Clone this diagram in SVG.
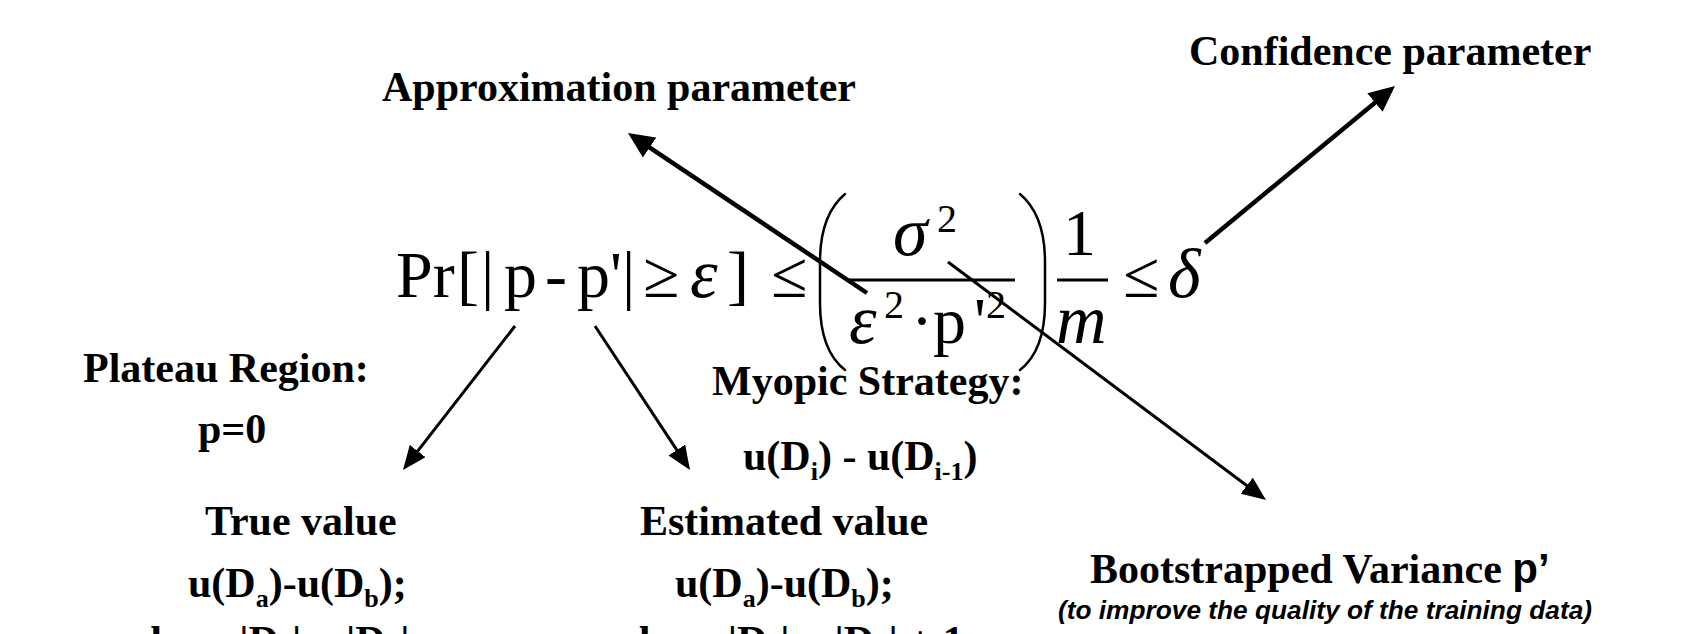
<svg xmlns="http://www.w3.org/2000/svg" width="1681" height="634" viewBox="0 0 1681 634">
  <style>
    .lbl { font-family: "Liberation Serif", "Times New Roman", serif; font-weight: bold; font-size: 42px; fill: #000; }
    .sub { font-size: 26px; }
    .m { font-family: "Liberation Serif", "Times New Roman", serif; font-size: 66px; fill: #000; }
    .mi { font-family: "Liberation Serif", "Times New Roman", serif; font-size: 70px; font-style: italic; fill: #000; }
    .sup { font-family: "Liberation Serif", "Times New Roman", serif; font-size: 40px; fill: #000; }
    .note { font-family: "Liberation Sans", Arial, sans-serif; font-weight: bold; font-style: italic; font-size: 26px; fill: #000; }
    .sans { font-family: "Liberation Sans", Arial, sans-serif; }
    .thick { stroke: #000; stroke-width: 4.5; fill: none; }
    .thin { stroke: #000; stroke-width: 3; fill: none; }
    .paren { stroke: #000; stroke-width: 2.5; fill: none; stroke-linecap: round; }
    .bar { stroke: #000; stroke-width: 3; }
  </style>
  <defs>
    <marker id="headThick" markerUnits="userSpaceOnUse" markerWidth="28" markerHeight="24" refX="16" refY="12" orient="auto">
      <path d="M0,0 L26,12 L0,24 z" fill="#000"/>
    </marker>
    <marker id="headThin" markerUnits="userSpaceOnUse" markerWidth="26" markerHeight="20" refX="14" refY="10" orient="auto">
      <path d="M0,0 L24,10 L0,20 z" fill="#000"/>
    </marker>
  </defs>

  <g id="approximation-parameter">
    <text class="lbl" x="382" y="101">Approximation parameter</text>
  </g>

  <g id="confidence-parameter">
    <text class="lbl" x="1189" y="65">Confidence parameter</text>
  </g>

  <g id="formula">
    <text class="m" x="396" y="297">Pr</text>
    <text class="m" x="457" y="297">[</text>
    <text class="m" x="481" y="297">|</text>
    <text class="m" x="504" y="297">p</text>
    <text class="m" x="545" y="297">-</text>
    <text class="m" x="577" y="297">p'</text>
    <text class="m" x="622" y="297">|</text>
    <text class="m" x="643" y="297">≥</text>
    <text class="mi" x="690" y="297">ε</text>
    <text class="m" x="727" y="297">]</text>
    <text class="m" x="771" y="297">≤</text>
    <path class="paren" d="M845,194 C826,210 820,235 820,262 L820,303 C820,330 826,355 845,370"/>
    <text class="mi" x="893" y="255">σ</text>
    <text class="sup" x="937" y="232">2</text>
    <line class="bar" x1="848" y1="280" x2="1015" y2="280"/>
    <text class="mi" x="849" y="343">ε</text>
    <text class="sup" x="884" y="318">2</text>
    <text class="m" x="911" y="343">·</text>
    <text class="m" x="933" y="343">p</text>
    <text class="m" x="974" y="343">'</text>
    <text class="sup" x="986" y="318">2</text>
    <path class="paren" d="M1020,194 C1039,210 1045,235 1045,262 L1045,303 C1045,330 1039,355 1020,370"/>
    <text class="m" x="1063" y="255">1</text>
    <line class="bar" x1="1057" y1="280" x2="1108" y2="280"/>
    <text class="mi" x="1056" y="343">m</text>
    <text class="m" x="1123" y="297">≤</text>
    <text class="mi" x="1168" y="297">δ</text>
  </g>

  <g id="plateau-region">
    <text class="lbl" x="83" y="382">Plateau Region:</text>
    <text class="lbl" x="198" y="443">p=0</text>
  </g>

  <g id="true-value">
    <text class="lbl" x="205" y="535">True value</text>
    <text class="lbl" x="188" y="597">u(D<tspan class="sub" dy="10">a</tspan><tspan dy="-10">)-u(D</tspan><tspan class="sub" dy="10">b</tspan><tspan dy="-10">);</tspan></text>
    <text class="lbl" x="120" y="655">where |D<tspan class="sub" dy="10">a</tspan><tspan dy="-10">| = |D</tspan><tspan class="sub" dy="10">b</tspan><tspan dy="-10">|</tspan></text>
  </g>

  <g id="myopic-strategy">
    <text class="lbl" x="712" y="395">Myopic Strategy:</text>
    <text class="lbl" x="743" y="470">u(D<tspan class="sub" dy="10">i</tspan><tspan dy="-10">) - u(D</tspan><tspan class="sub" dy="10">i-1</tspan><tspan dy="-10">)</tspan></text>
  </g>

  <g id="estimated-value">
    <text class="lbl" x="640" y="535">Estimated value</text>
    <text class="lbl" x="675" y="597">u(D<tspan class="sub" dy="10">a</tspan><tspan dy="-10">)-u(D</tspan><tspan class="sub" dy="10">b</tspan><tspan dy="-10">);</tspan></text>
    <text class="lbl" x="786" y="655" text-anchor="middle">where |D<tspan class="sub" dy="10">a</tspan><tspan dy="-10">| = |D</tspan><tspan class="sub" dy="10">b</tspan><tspan dy="-10">| + 1</tspan></text>
  </g>

  <g id="bootstrapped-variance">
    <text class="lbl" x="1090" y="583">Bootstrapped Variance <tspan class="sans">p’</tspan></text>
    <text class="note" x="1058" y="619" textLength="534" lengthAdjust="spacingAndGlyphs">(to improve the quality of the training data)</text>
  </g>

  <g id="connectors">
    <line class="thick" x1="867" y1="293" x2="636.3" y2="138.6" marker-end="url(#headThick)"/>
    <line class="thick" x1="1205" y1="243" x2="1387.3" y2="92.4" marker-end="url(#headThick)"/>
    <line class="thin" x1="948" y1="262" x2="1258" y2="494" marker-end="url(#headThin)"/>
    <line class="thin" x1="515" y1="326" x2="409.1" y2="462.1" marker-end="url(#headThin)"/>
    <line class="thin" x1="595" y1="326" x2="684.5" y2="461.7" marker-end="url(#headThin)"/>
  </g>
</svg>
